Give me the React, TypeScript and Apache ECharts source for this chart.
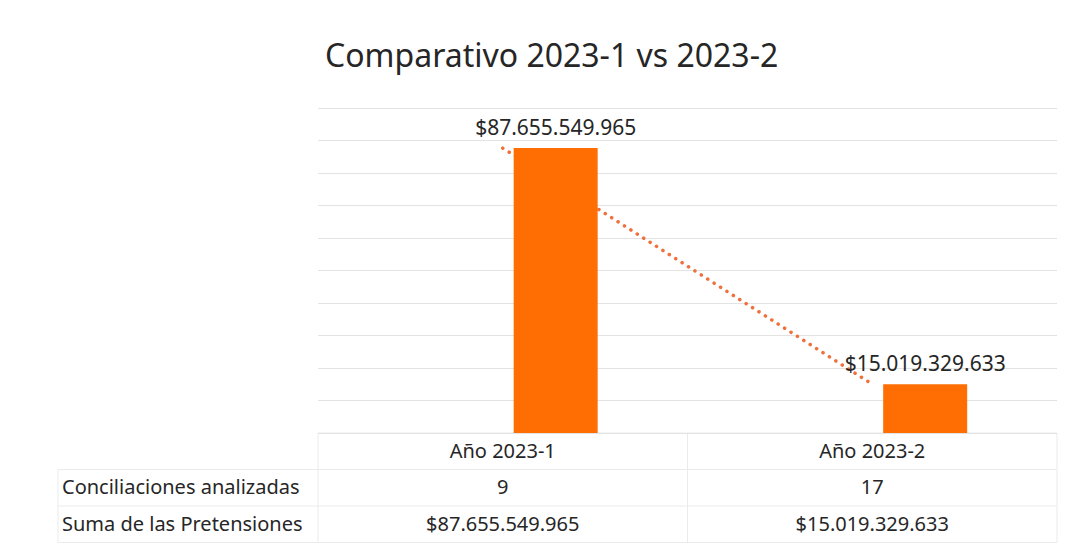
import React, { useEffect, useRef } from "react";
import * as echarts from "echarts";

const TITLE = "Comparativo 2023-1 vs 2023-2";
const CATEGORIES = ["Año 2023-1", "Año 2023-2"];
const ROW_NAMES = ["Conciliaciones analizadas", "Suma de las Pretensiones"];
const CONCILIACIONES = [9, 17];
const SUMA = [87655549965, 15019329633];

const fmtMoney = (v: number) =>
  "$" + String(Math.round(v)).replace(/\B(?=(\d{3})+(?!\d))/g, ".");

const FONT = "'Noto Sans', 'Open Sans', sans-serif";
const ORANGE = "#FF6E02";
const TREND = "#F0703C";
const GRID = "#e3e3e3";
const TABLE_LINE = "#ebebeb";
const TEXT = "#262626";

export default function App() {
  const ref = useRef<HTMLDivElement>(null);
  useEffect(() => {
    if (!ref.current) return;
    const chart = echarts.init(ref.current, null, { renderer: "svg" });

    const gridLeft = 318;
    const gridRight = 1057;
    const baseY = 433;
    const rowH = 36.5;
    const tableLeft = 58;
    const colMid = (gridLeft + gridRight) / 2;
    const colCenters = [
      gridLeft + (gridRight - gridLeft) / 4,
      gridLeft + (3 * (gridRight - gridLeft)) / 4,
    ];
    const rowsData = [
      CONCILIACIONES.map((v) => String(v)),
      SUMA.map((v) => fmtMoney(v)),
    ];

    const graphics: any[] = [];
    const line = (x1: number, y1: number, x2: number, y2: number) =>
      graphics.push({
        type: "line",
        shape: { x1, y1, x2, y2 },
        style: { stroke: TABLE_LINE, lineWidth: 1 },
        silent: true,
      });
    line(gridLeft, baseY, gridRight, baseY);
    for (let r = 1; r <= 3; r++) {
      line(tableLeft, baseY + rowH * r, gridRight, baseY + rowH * r);
    }
    line(gridLeft, baseY, gridLeft, baseY + rowH * 3);
    line(colMid, baseY, colMid, baseY + rowH * 3);
    line(gridRight, baseY, gridRight, baseY + rowH * 3);
    line(tableLeft, baseY + rowH, tableLeft, baseY + rowH * 3);

    ROW_NAMES.forEach((name, i) => {
      const cy = baseY + rowH * (i + 1.5) - 1;
      graphics.push({
        type: "text",
        x: 62,
        y: cy,
        style: {
          text: name,
          font: `20px ${FONT}`,
          fill: TEXT,
          textAlign: "left",
          textVerticalAlign: "middle",
        },
      });
      rowsData[i].forEach((val, j) => {
        graphics.push({
          type: "text",
          x: colCenters[j],
          y: cy,
          style: {
            text: val,
            font: `20px ${FONT}`,
            fill: TEXT,
            textAlign: "center",
            textVerticalAlign: "middle",
          },
        });
      });
    });

    chart.setOption({
      animation: false,
      backgroundColor: "#ffffff",
      title: {
        text: TITLE,
        left: 320,
        top: 33,
        textStyle: {
          fontFamily: FONT,
          fontSize: 32,
          fontWeight: "normal",
          color: "#262626",
        },
      },
      grid: {
        left: gridLeft,
        right: 1076 - gridRight,
        top: 108,
        bottom: 552 - baseY,
        containLabel: false,
      },
      xAxis: {
        type: "category",
        data: CATEGORIES,
        axisTick: { show: false },
        axisLine: { show: false },
        axisLabel: {
          margin: 7,
          fontFamily: FONT,
          fontSize: 20,
          color: TEXT,
        },
      },
      yAxis: {
        type: "value",
        min: 0,
        max: 100e9,
        interval: 10e9,
        axisLabel: { show: false },
        axisLine: { show: false },
        axisTick: { show: false },
        splitLine: { lineStyle: { color: GRID, width: 1 } },
      },
      series: [
        {
          name: ROW_NAMES[0],
          type: "bar",
          data: CONCILIACIONES,
          barWidth: 84,
          barGap: "26%",
          itemStyle: { color: ORANGE },
          z: 3,
        },
        {
          name: ROW_NAMES[1],
          type: "bar",
          data: SUMA,
          barWidth: 84,
          barGap: "26%",
          itemStyle: { color: ORANGE },
          z: 3,
          label: {
            show: true,
            position: "top",
            distance: 11,
            formatter: (p: any) => fmtMoney(p.value),
            fontFamily: FONT,
            fontSize: 21,
            color: TEXT,
          },
        },
        {
          name: "Tendencia",
          type: "line",
          data: SUMA,
          showSymbol: false,
          symbol: "none",
          z: 1,
          lineStyle: {
            color: TREND,
            width: 3.5,
            type: [0.1, 7.5],
            cap: "round",
          },
        },
      ],
      graphic: graphics,
    });
    return () => chart.dispose();
  }, []);
  return (
    <div
      ref={ref}
      style={{ position: "absolute", left: 0, top: 0, width: 1076, height: 552 }}
    />
  );
}
